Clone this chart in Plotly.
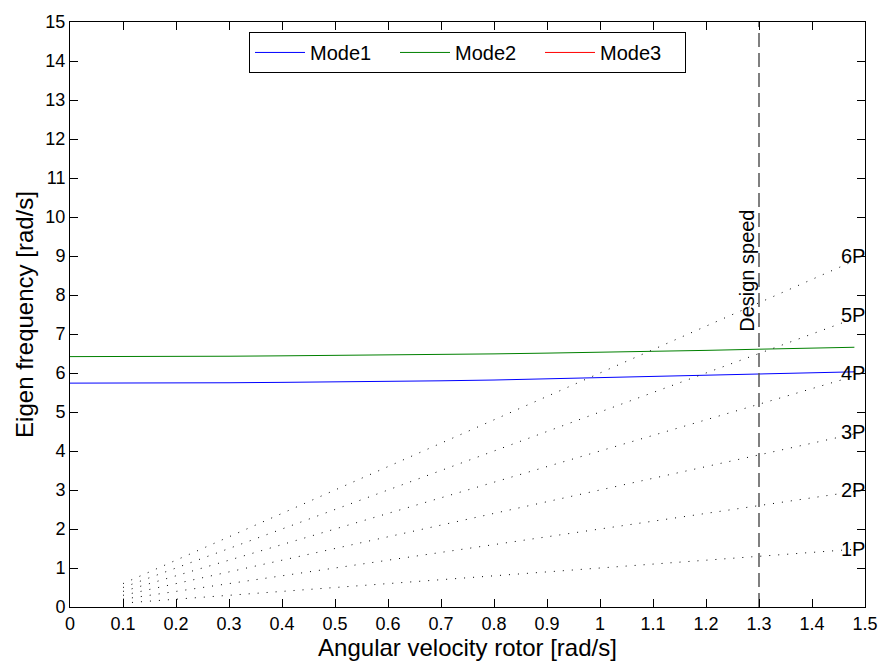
import plotly.graph_objects as go

# Rotor speed grid and eigenfrequencies of the first modes
omega = [0.0, 0.1, 0.2, 0.3, 0.4, 0.5, 0.6, 0.7, 0.8, 0.9, 1.0, 1.1, 1.2, 1.3, 1.4, 1.48]
mode1 = [5.74, 5.74, 5.75, 5.75, 5.76, 5.77, 5.79, 5.80, 5.82, 5.85, 5.87, 5.90, 5.93, 5.96, 6.00, 6.03]
mode2 = [6.42, 6.42, 6.42, 6.43, 6.44, 6.45, 6.46, 6.47, 6.49, 6.51, 6.53, 6.55, 6.58, 6.61, 6.64, 6.66]

# Excitation lines nP (frequency = n * rotor speed)
harmonics = [1, 2, 3, 4, 5, 6]
harm_x = [0.1, 1.48]
harm_labels = ["1P", "2P", "3P", "4P", "5P", "6P"]
label_x = 1.45
label_y = [1.5, 3.0, 4.5, 6.0, 7.5, 9.0]

design_speed = 1.3

font_family = "Liberation Sans, Arial, sans-serif"

fig = go.Figure()

fig.add_trace(go.Scatter(x=omega, y=mode1, mode="lines", name="Mode1",
                         line=dict(color="#0000ff", width=1)))
fig.add_trace(go.Scatter(x=omega, y=mode2, mode="lines", name="Mode2",
                         line=dict(color="#008000", width=1)))
# Mode3 lies above the displayed frequency range
fig.add_trace(go.Scatter(x=[None], y=[None], mode="lines", name="Mode3",
                         line=dict(color="#ff0000", width=1)))

for n in harmonics:
    fig.add_trace(go.Scatter(x=harm_x, y=[n * v for v in harm_x], mode="lines",
                             showlegend=False, hoverinfo="skip",
                             line=dict(color="black", width=1, dash="1px,8px")))

for lbl, ly in zip(harm_labels, label_y):
    fig.add_annotation(x=label_x, y=ly, text=lbl, showarrow=False,
                       xanchor="left", yanchor="middle",
                       font=dict(family=font_family, size=20, color="black"))

fig.add_trace(go.Scatter(x=[design_speed, design_speed], y=[0, 15], mode="lines",
                         showlegend=False, hoverinfo="skip",
                         line=dict(color="#555555", width=1.5, dash="14px,6px")))
fig.add_annotation(x=1.277, y=7.0, text="Design speed", showarrow=False,
                   textangle=-90, xanchor="center", yanchor="bottom",
                   font=dict(family=font_family, size=20, color="black"))

axis_common = dict(
    showline=True, linecolor="black", linewidth=1, mirror="ticks",
    ticks="inside", ticklen=8, tickcolor="black", showgrid=False, zeroline=False,
    tickfont=dict(family=font_family, size=18, color="black"),
)

fig.update_xaxes(range=[0, 1.5], tick0=0, dtick=0.1, tickformat="~g",
                 title=dict(text="Angular velocity rotor [rad/s]",
                            font=dict(family=font_family, size=24, color="black"),
                            standoff=2),
                 **axis_common)
fig.update_yaxes(range=[0, 15], tick0=0, dtick=1,
                 title=dict(text="Eigen frequency [rad/s]",
                            font=dict(family=font_family, size=24, color="black"),
                            standoff=4),
                 **axis_common)

fig.update_layout(
    width=890, height=669,
    margin=dict(l=70, r=18, t=19, b=62),
    paper_bgcolor="white", plot_bgcolor="white",
    font=dict(family=font_family, color="black"),
    legend=dict(orientation="h", x=0.5, xanchor="center", y=0.983, yanchor="top",
                bgcolor="white", bordercolor="black", borderwidth=1,
                font=dict(family=font_family, size=20, color="black"),
                itemwidth=50, entrywidth=80, entrywidthmode="pixels",
                tracegroupgap=0),
    showlegend=True,
)

fig.write_html("out.html")
